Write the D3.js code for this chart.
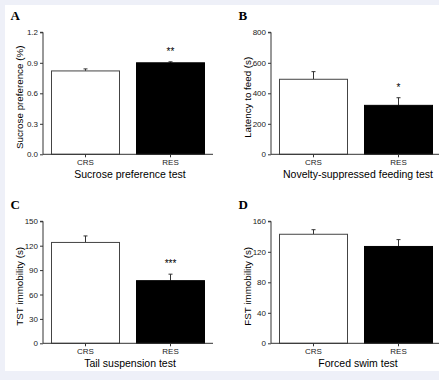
<!DOCTYPE html>
<html>
<head>
<meta charset="utf-8">
<script src="https://cdn.jsdelivr.net/npm/d3@7/dist/d3.min.js"></script>
<style>
  html, body { margin: 0; padding: 0; background: #eef0f8; }
  svg { display: block; }
</style>
</head>
<body>
<svg id="chart" width="439" height="380"></svg>
<script>
// ---- data ----
const groups = ["CRS", "RES"];
const panelLetters = ["A", "B", "C", "D"];
const yTitles = ["Sucrose preference (%)", "Latency to feed (s)", "TST immobility (s)", "FST immobility (s)"];
const xTitles = ["Sucrose preference test", "Novelty-suppressed feeding test", "Tail suspension test", "Forced swim test"];
const yMax = [1.2, 800, 150, 160];
const yTickValues = [
  [0, 0.3, 0.6, 0.9, 1.2],
  [0, 200, 400, 600, 800],
  [0, 30, 60, 90, 120, 150],
  [0, 40, 80, 120, 160]
];
const yTickFormats = [".1f", "d", "d", "d"];
const sucroseMeans = [0.82, 0.90];
const sucroseErr = [0.02, 0.01];
const latencyMeans = [492, 321];
const latencyErr = [50, 50];
const tstMeans = [124, 77];
const tstErr = [8, 8];
const fstMeans = [143, 127];
const fstErr = [6, 9];
const significance = ["**", "*", "***", ""];

const means = [sucroseMeans, latencyMeans, tstMeans, fstMeans];
const errs = [sucroseErr, latencyErr, tstErr, fstErr];

// ---- layout ----
const svg = d3.select("#chart");
svg.append("rect").attr("x", 5).attr("y", 5).attr("width", 434).attr("height", 366).attr("fill", "#ffffff");

const origins = [[0, 0], [228, 0], [0, 189], [228, 189]];
const axisColor = "#333";
const fillColors = ["#ffffff", "#000000"];
const sans = "Liberation Sans, Arial, sans-serif";

panelLetters.forEach((letter, i) => {
  const [ox, oy] = origins[i];
  const g = svg.append("g").attr("transform", `translate(${ox},${oy})`);
  const left = 43, right = 213, top = 32.3, bottom = 154.3;

  const x = d3.scaleBand().domain(groups).range([left, right]).paddingInner(0.2).paddingOuter(0.1);
  const y = d3.scaleLinear().domain([0, yMax[i]]).range([bottom, top]);

  // panel letter
  g.append("text").attr("x", 10.5).attr("y", 20)
    .attr("font-family", "Liberation Serif, Times New Roman, serif")
    .attr("font-weight", "bold").attr("font-size", 13).attr("fill", "#000")
    .text(letter);

  const data = groups.map((gname, k) => ({ g: gname, v: means[i][k], e: errs[i][k], k }));
  // error bars (upward only)
  data.forEach(d => {
    const cx = x(d.g) + x.bandwidth() / 2;
    g.append("line").attr("x1", cx).attr("x2", cx).attr("y1", y(d.v)).attr("y2", y(d.v + d.e))
      .attr("stroke", axisColor).attr("stroke-width", 1);
    g.append("line").attr("x1", cx - 2).attr("x2", cx + 2).attr("y1", y(d.v + d.e)).attr("y2", y(d.v + d.e))
      .attr("stroke", axisColor).attr("stroke-width", 1);
  });
  g.selectAll("rect.bar").data(data).enter().append("rect")
    .attr("class", "bar")
    .attr("x", d => x(d.g)).attr("width", x.bandwidth())
    .attr("y", d => y(d.v)).attr("height", d => y(0) - y(d.v))
    .attr("fill", d => fillColors[d.k])
    .attr("stroke", d => d.k === 0 ? "#444" : "#000").attr("stroke-width", 1);

  // significance
  if (significance[i]) {
    const d = data[1];
    g.append("text").attr("x", x(d.g) + x.bandwidth() / 2).attr("y", y(d.v + d.e) - 7)
      .attr("text-anchor", "middle").attr("font-family", sans)
      .attr("font-size", 10).attr("fill", "#000")
      .text(significance[i]);
  }

  // axes
  const yAxis = d3.axisLeft(y).tickValues(yTickValues[i]).tickFormat(d3.format(yTickFormats[i])).tickSize(3).tickPadding(2);
  const ya = g.append("g").attr("transform", `translate(${left},0)`).call(yAxis);
  const xAxis = d3.axisBottom(x).tickSize(3).tickPadding(2.5);
  const xa = g.append("g").attr("transform", `translate(0,${bottom})`).call(xAxis);
  [ya, xa].forEach(a => {
    a.select(".domain").attr("stroke", axisColor);
    a.selectAll(".tick line").attr("stroke", axisColor);
    a.selectAll(".tick text").attr("font-family", sans).attr("font-size", 8).attr("fill", "#222");
  });
  xa.select(".domain").attr("d", `M${left},0H${right}`);
  ya.select(".domain").attr("d", `M-3,${top}H0V${bottom}`);

  // titles
  g.append("text").attr("x", (left + right) / 2 + 2).attr("y", 178)
    .attr("text-anchor", "middle").attr("font-family", sans)
    .attr("font-size", 10.5).attr("fill", "#000").text(xTitles[i]);
  g.append("text").attr("transform", `translate(22.5,${(top + bottom) / 2 + 4}) rotate(-90)`)
    .attr("text-anchor", "middle").attr("font-family", sans)
    .attr("font-size", 9.8).attr("fill", "#000").text(yTitles[i]);
});
</script>
</body>
</html>
